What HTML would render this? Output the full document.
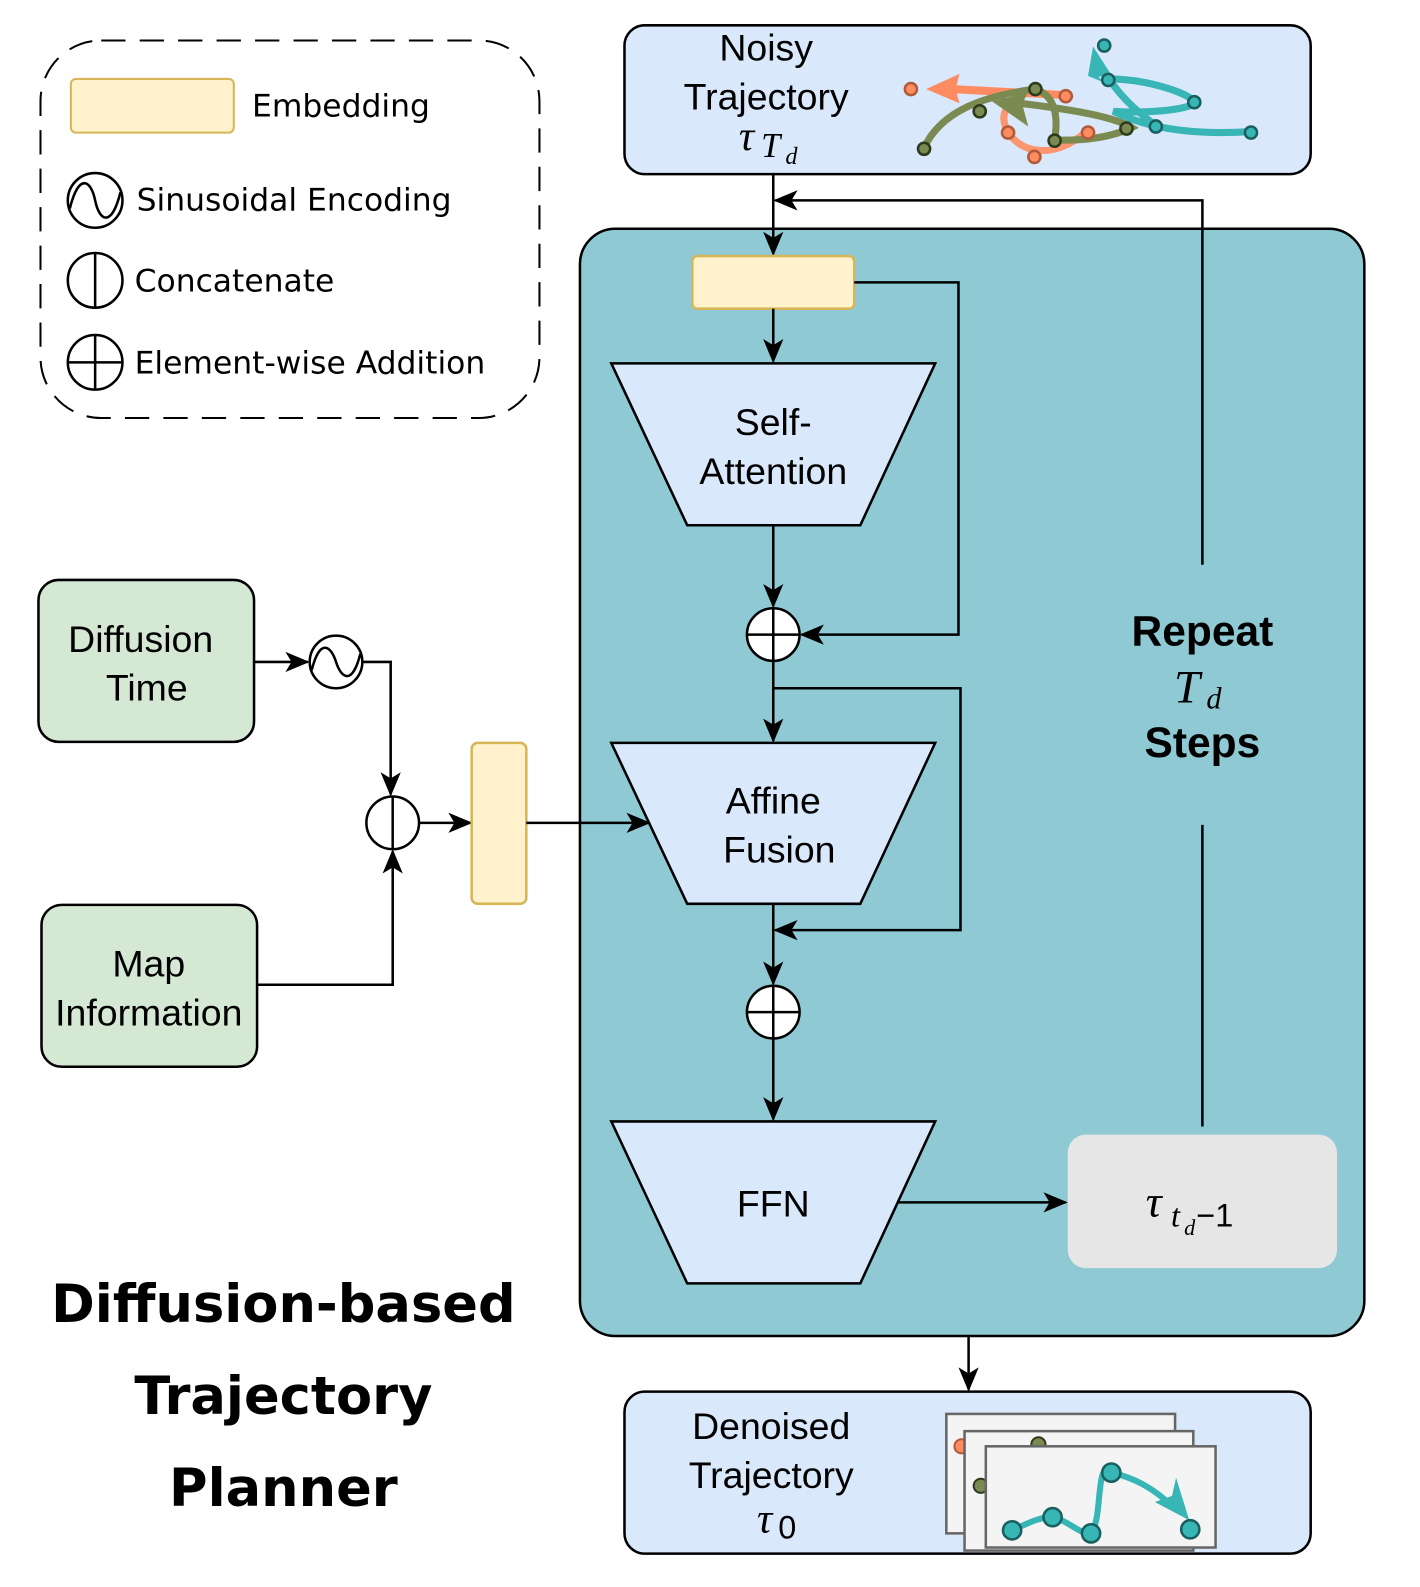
<!DOCTYPE html>
<html><head><meta charset="utf-8"><style>
html,body{margin:0;padding:0;background:#fff;width:1420px;height:1587px;overflow:hidden;}
svg{display:block;}
text{font-family:"Liberation Sans",sans-serif;}
.dv{font-family:"DejaVu Sans",sans-serif;}
.m{font-family:"Liberation Serif",serif;font-style:italic;}
</style></head><body>
<svg width="1420" height="1587" viewBox="0 0 1403 1568" preserveAspectRatio="none" xmlns="http://www.w3.org/2000/svg" style="position:absolute;left:0;top:0;">
<defs>
<marker id="ah" markerWidth="24" markerHeight="24" refX="22" refY="12" orient="auto" markerUnits="userSpaceOnUse" viewBox="0 0 24 24"><path d="M0,2 L24,12 L0,22 L6,12Z" fill="#000"/></marker>
</defs>
<!-- legend -->
<rect x="40" y="40" width="493" height="373" rx="60" fill="none" stroke="#000" stroke-width="2" stroke-dasharray="24,14"/>
<rect x="70" y="78" width="161" height="53" rx="5" fill="#fff2cc" stroke="#d6b656" stroke-width="2"/>
<text x="249" y="115" font-size="31" class="dv">Embedding</text>
<circle cx="94" cy="198" r="27" fill="#fff" stroke="#000" stroke-width="2.5"/>
<path d="M69,206 C78,170 90,178 94,198 C98,218 110,226 119,190" fill="none" stroke="#000" stroke-width="2.5"/>
<text x="135" y="208" font-size="31" class="dv">Sinusoidal Encoding</text>
<circle cx="94" cy="277" r="27" fill="#fff" stroke="#000" stroke-width="2.5"/>
<line x1="94" y1="250" x2="94" y2="304" stroke="#000" stroke-width="2.5"/>
<text x="133" y="288" font-size="31" class="dv">Concatenate</text>
<circle cx="94" cy="358" r="27" fill="#fff" stroke="#000" stroke-width="2.5"/>
<line x1="94" y1="331" x2="94" y2="385" stroke="#000" stroke-width="2.5"/>
<line x1="67" y1="358" x2="121" y2="358" stroke="#000" stroke-width="2.5"/>
<text x="133" y="369" font-size="31" class="dv">Element-wise Addition</text>

<!-- noisy box -->
<rect x="617" y="25" width="678" height="147" rx="20" fill="#dae8fc" stroke="#000" stroke-width="2.5"/>
<text x="757" y="60" font-size="37" text-anchor="middle">Noisy</text>
<text x="757" y="108" font-size="37" text-anchor="middle">Trajectory</text>
<text x="730" y="148" font-size="42" class="m">τ</text><text x="752" y="155" font-size="34" class="m">T</text><text x="776" y="162" font-size="24" class="m">d</text>
<g fill="none" stroke-linecap="round">
<path d="M1023,88 C1000,95 985,110 995,128 C1005,150 1040,160 1073,130" stroke="#ff8c61" stroke-width="7" opacity=".9"/>
<path d="M1053,94 L940,88" stroke="#ff8c61" stroke-width="8"/>
<path d="M913,146 C930,110 970,95 1023,88 C1045,95 1045,120 1042,138 C1070,140 1100,135 1118,126 C1100,115 1060,108 990,100" stroke="#7a8a50" stroke-width="7"/>
<path d="M1096,78 C1130,78 1170,90 1180,100 C1180,110 1120,112 1100,110 C1120,120 1160,135 1236,130" stroke="#38b5b5" stroke-width="7"/>
<path d="M1096,78 C1110,100 1130,115 1142,124" stroke="#38b5b5" stroke-width="7"/>
</g>
<path d="M915,88 L948,73 L944,88 L948,102Z" fill="#ff8c61"/>
<path d="M980,100 L1015,92 L1010,103 L1016,125Z" fill="#7a8a50"/>
<path d="M1080,46 L1098,74 L1085,76 L1092,82 L1075,75Z" fill="#38b5b5"/>
<g stroke-width="2.5">
<circle cx="900" cy="88" r="6" fill="#ff8c61" stroke="#b05a3a"/><circle cx="1053" cy="95" r="6" fill="#ff8c61" stroke="#b05a3a"/><circle cx="996" cy="131" r="6" fill="#ff8c61" stroke="#b05a3a"/><circle cx="1022" cy="155" r="6" fill="#ff8c61" stroke="#b05a3a"/><circle cx="1075" cy="131" r="6" fill="#ff8c61" stroke="#b05a3a"/>
<circle cx="913" cy="147" r="6" fill="#7a8a50" stroke="#2e3a1e"/><circle cx="968" cy="110" r="6" fill="#7a8a50" stroke="#2e3a1e"/><circle cx="1023" cy="88" r="6" fill="#7a8a50" stroke="#2e3a1e"/><circle cx="1042" cy="139" r="6" fill="#7a8a50" stroke="#2e3a1e"/><circle cx="1113" cy="127" r="6" fill="#7a8a50" stroke="#2e3a1e"/>
<circle cx="1091" cy="45" r="6" fill="#38b5b5" stroke="#1a5f5f"/><circle cx="1095" cy="79" r="6" fill="#38b5b5" stroke="#1a5f5f"/><circle cx="1180" cy="101" r="6" fill="#38b5b5" stroke="#1a5f5f"/><circle cx="1142" cy="125" r="6" fill="#38b5b5" stroke="#1a5f5f"/><circle cx="1236" cy="131" r="6" fill="#38b5b5" stroke="#1a5f5f"/>
</g>

<!-- main teal -->
<rect x="573" y="226" width="775" height="1094" rx="35" fill="#8fcad4" stroke="#000" stroke-width="2.5"/>
<line x1="764" y1="172" x2="764" y2="251" stroke="#000" stroke-width="2.5" marker-end="url(#ah)"/>
<polyline points="1188,558 1188,198 766,198" fill="none" stroke="#000" stroke-width="2.5" marker-end="url(#ah)"/>
<line x1="1188" y1="1113" x2="1188" y2="815" stroke="#000" stroke-width="2.5"/>
<text x="1188" y="638" font-size="42" font-weight="bold" text-anchor="middle">Repeat</text>
<text x="1160" y="694" font-size="46" class="m">T</text><text x="1192" y="700" font-size="30" class="m">d</text>
<text x="1188" y="748" font-size="42" font-weight="bold" text-anchor="middle">Steps</text>

<rect x="684" y="253" width="160" height="52" rx="5" fill="#fff2cc" stroke="#d6b656" stroke-width="2.5"/>
<line x1="764" y1="305" x2="764" y2="357" stroke="#000" stroke-width="2.5" marker-end="url(#ah)"/>
<polyline points="844,279 947,279 947,627 792,627" fill="none" stroke="#000" stroke-width="2.5" marker-end="url(#ah)"/>
<polygon points="604,359 924,359 850,519 679,519" fill="#dae8fc" stroke="#000" stroke-width="2.5"/>
<text x="764" y="430" font-size="37" text-anchor="middle">Self-</text>
<text x="764" y="478" font-size="37" text-anchor="middle">Attention</text>
<line x1="764" y1="519" x2="764" y2="599" stroke="#000" stroke-width="2.5" marker-end="url(#ah)"/>
<circle cx="764" cy="627" r="26" fill="#fff" stroke="#000" stroke-width="2.5"/>
<line x1="764" y1="601" x2="764" y2="653" stroke="#000" stroke-width="2.5"/><line x1="738" y1="627" x2="790" y2="627" stroke="#000" stroke-width="2.5"/>
<line x1="764" y1="653" x2="764" y2="732" stroke="#000" stroke-width="2.5" marker-end="url(#ah)"/>
<polyline points="764,680 949,680 949,919 766,919" fill="none" stroke="#000" stroke-width="2.5" marker-end="url(#ah)"/>
<polygon points="604,734 924,734 850,893 679,893" fill="#dae8fc" stroke="#000" stroke-width="2.5"/>
<text x="764" y="804" font-size="37" text-anchor="middle">Affine</text>
<text x="770" y="852" font-size="37" text-anchor="middle">Fusion</text>
<line x1="764" y1="893" x2="764" y2="972" stroke="#000" stroke-width="2.5" marker-end="url(#ah)"/>
<circle cx="764" cy="1000" r="26" fill="#fff" stroke="#000" stroke-width="2.5"/>
<line x1="764" y1="974" x2="764" y2="1026" stroke="#000" stroke-width="2.5"/><line x1="738" y1="1000" x2="790" y2="1000" stroke="#000" stroke-width="2.5"/>
<line x1="764" y1="1026" x2="764" y2="1106" stroke="#000" stroke-width="2.5" marker-end="url(#ah)"/>
<polygon points="604,1108 924,1108 850,1268 679,1268" fill="#dae8fc" stroke="#000" stroke-width="2.5"/>
<text x="764" y="1202" font-size="37" text-anchor="middle">FFN</text>
<line x1="888" y1="1188" x2="1053" y2="1188" stroke="#000" stroke-width="2.5" marker-end="url(#ah)"/>
<rect x="1055" y="1121" width="266" height="132" rx="18" fill="#e6e6e6"/>
<text x="1132" y="1202" font-size="44" class="m">τ</text><text x="1157" y="1212" font-size="32" class="m">t</text><text x="1170" y="1220" font-size="22" class="m">d</text><text x="1182" y="1212" font-size="32" font-family="Liberation Serif">−1</text>

<!-- left -->
<rect x="38" y="573" width="213" height="160" rx="20" fill="#d5e8d4" stroke="#000" stroke-width="2.5"/>
<text x="139" y="644" font-size="37" text-anchor="middle">Diffusion</text>
<text x="145" y="692" font-size="37" text-anchor="middle">Time</text>
<rect x="41" y="894" width="213" height="160" rx="20" fill="#d5e8d4" stroke="#000" stroke-width="2.5"/>
<text x="147" y="965" font-size="37" text-anchor="middle">Map</text>
<text x="147" y="1013" font-size="37" text-anchor="middle">Information</text>
<line x1="251" y1="654" x2="304" y2="654" stroke="#000" stroke-width="2.5" marker-end="url(#ah)"/>
<circle cx="332" cy="654" r="26" fill="#fff" stroke="#000" stroke-width="2.5"/>
<path d="M308,662 C316,630 327,638 332,654 C337,670 348,678 356,646" fill="none" stroke="#000" stroke-width="2.5"/>
<polyline points="358,654 386,654 386,785" fill="none" stroke="#000" stroke-width="2.5" marker-end="url(#ah)"/>
<polyline points="254,973 388,973 388,841" fill="none" stroke="#000" stroke-width="2.5" marker-end="url(#ah)"/>
<circle cx="388" cy="813" r="26" fill="#fff" stroke="#000" stroke-width="2.5"/>
<line x1="388" y1="787" x2="388" y2="839" stroke="#000" stroke-width="2.5"/>
<line x1="414" y1="813" x2="465" y2="813" stroke="#000" stroke-width="2.5" marker-end="url(#ah)"/>
<rect x="466" y="734" width="54" height="159" rx="6" fill="#fff2cc" stroke="#d6b656" stroke-width="2.5"/>
<line x1="520" y1="813" x2="641" y2="813" stroke="#000" stroke-width="2.5" marker-end="url(#ah)"/>

<text x="280" y="1306" font-size="52" font-weight="bold" text-anchor="middle" class="dv">Diffusion-based</text>
<text x="280" y="1397" font-size="52" font-weight="bold" text-anchor="middle" class="dv">Trajectory</text>
<text x="280" y="1488" font-size="52" font-weight="bold" text-anchor="middle" class="dv">Planner</text>

<!-- output -->
<line x1="957" y1="1320" x2="957" y2="1373" stroke="#000" stroke-width="2.5" marker-end="url(#ah)"/>
<rect x="617" y="1375" width="678" height="160" rx="20" fill="#dae8fc" stroke="#000" stroke-width="2.5"/>
<text x="762" y="1422" font-size="37" text-anchor="middle">Denoised</text>
<text x="762" y="1470" font-size="37" text-anchor="middle">Trajectory</text>
<text x="748" y="1514" font-size="42" class="m">τ</text><text x="769" y="1520" font-size="32" font-family="Liberation Serif">0</text>
<rect x="935" y="1397" width="226" height="118" fill="#f4f4f4" stroke="#666" stroke-width="2.5"/>
<circle cx="950" cy="1429" r="7" fill="#ff8c61" stroke="#b05a3a" stroke-width="2"/>
<rect x="953" y="1414" width="226" height="118" fill="#f4f4f4" stroke="#666" stroke-width="2.5"/>
<circle cx="969" cy="1468" r="7" fill="#7a8a50" stroke="#2e3a1e" stroke-width="2"/>
<circle cx="1026" cy="1427" r="7" fill="#7a8a50" stroke="#2e3a1e" stroke-width="2"/>
<rect x="974" y="1429" width="227" height="100" fill="#f4f4f4" stroke="#666" stroke-width="2.5"/>
<path d="M1000,1512 C1015,1505 1030,1498 1040,1499 C1055,1502 1070,1518 1078,1515 C1090,1500 1082,1440 1098,1455 C1120,1460 1140,1470 1160,1490" fill="none" stroke="#38b5b5" stroke-width="6"/>
<path d="M1141,1484 L1175,1502 L1162,1460 L1158,1478Z" fill="#38b5b5"/>
<g fill="#38b5b5" stroke="#1a5f5f" stroke-width="2.5">
<circle cx="1000" cy="1512" r="9"/><circle cx="1040" cy="1499" r="9"/><circle cx="1078" cy="1515" r="9"/><circle cx="1098" cy="1455" r="9"/><circle cx="1176" cy="1511" r="9"/>
</g>
</svg>
</body></html>
